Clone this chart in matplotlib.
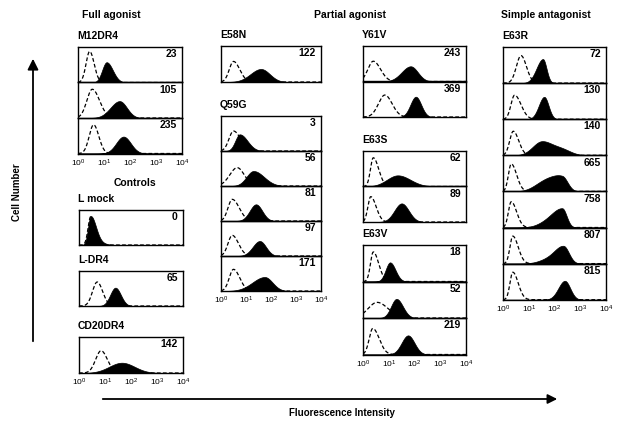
import numpy as np
import matplotlib.pyplot as plt

plt.rcParams['font.family'] = ['Liberation Sans', 'DejaVu Sans']
plt.rcParams['mathtext.fontset'] = 'custom'
plt.rcParams['mathtext.rm'] = 'Liberation Sans'
plt.rcParams['mathtext.it'] = 'Liberation Sans'
plt.rcParams['mathtext.bf'] = 'Liberation Sans:bold'

# panel groups (name, number of stacked histograms)
groups = ['M12DR4', 'L mock', 'L-DR4', 'CD20DR4', 'E58N', 'Q59G',
          'Y61V', 'E63S', 'E63V', 'E63R']
group_sizes = [3, 1, 1, 1, 1, 5, 2, 2, 3, 7]

# mean fluorescence value printed in each panel
mfi = [23, 105, 235, 0, 65, 142, 122, 3, 56, 81, 97, 171,
       243, 369, 62, 89, 18, 52, 219, 72, 130, 140, 665, 758, 807, 815]

# control (dashed) peak: position in decades, left/right spread, height
ctrl_mu = [0.45, 0.55, 0.6, 0.45, 0.7, 0.85, 0.5, 0.5, 0.65, 0.45, 0.45, 0.5,
           0.4, 0.85, 0.4, 0.3, 0.4, 0.55, 0.38, 0.7, 0.45, 0.4, 0.32, 0.32, 0.38, 0.38]
ctrl_sl = [0.14, 0.21, 0.17, 0.1, 0.18, 0.21, 0.17, 0.18, 0.3, 0.17, 0.17, 0.17,
           0.21, 0.25, 0.11, 0.11, 0.11, 0.35, 0.14, 0.18, 0.14, 0.14, 0.11, 0.11, 0.11, 0.11]
ctrl_sr = [0.17, 0.28, 0.2, 0.17, 0.21, 0.24, 0.25, 0.28, 0.28, 0.28, 0.25, 0.25,
           0.28, 0.28, 0.21, 0.21, 0.21, 0.42, 0.25, 0.21, 0.25, 0.21, 0.21, 0.21, 0.21, 0.21]
ctrl_h = [0.92, 0.85, 0.85, 0.85, 0.72, 0.65, 0.6, 0.6, 0.55, 0.65, 0.62, 0.65,
          0.6, 0.65, 0.85, 0.75, 0.85, 0.45, 0.75, 0.8, 0.7, 0.7, 0.8, 0.75, 0.8, 0.8]

# stained (filled) peak
fill_mu = [1.1, 1.6, 1.75, 0.45, 1.4, 1.65, 1.6, 0.75, 1.3, 1.4, 1.55, 1.75,
           1.85, 2.05, 1.35, 1.5, 1.05, 1.3, 1.75, 1.55, 1.6, 1.5, 2.3, 2.3, 2.35, 2.4]
fill_sl = [0.17, 0.35, 0.28, 0.1, 0.2, 0.49, 0.42, 0.18, 0.28, 0.25, 0.28, 0.49,
           0.35, 0.21, 0.42, 0.28, 0.17, 0.21, 0.25, 0.25, 0.21, 0.35, 0.42, 0.42, 0.35, 0.25]
fill_sr = [0.24, 0.28, 0.28, 0.2, 0.21, 0.49, 0.35, 0.31, 0.42, 0.25, 0.25, 0.31,
           0.28, 0.21, 0.49, 0.28, 0.21, 0.25, 0.25, 0.14, 0.17, 0.42, 0.21, 0.17, 0.21, 0.21]
fill_h = [0.6, 0.5, 0.5, 0.85, 0.55, 0.3, 0.38, 0.5, 0.45, 0.5, 0.45, 0.42,
          0.45, 0.6, 0.33, 0.55, 0.55, 0.55, 0.55, 0.7, 0.65, 0.4, 0.4, 0.55, 0.5, 0.55]

# secondary shoulder of the filled histogram (height 0 = none)
sh_mu = [0, 0, 0, 0.8, 0, 0, 0, 0, 0, 0, 0, 0,
         0, 0, 0, 0, 0, 0, 0, 0, 0, 2.3, 1.6, 1.6, 1.7, 0]
sh_s = [0.1, 0.1, 0.1, 0.25, 0.1, 0.1, 0.1, 0.1, 0.1, 0.1, 0.1, 0.1,
        0.1, 0.1, 0.1, 0.1, 0.1, 0.1, 0.1, 0.1, 0.1, 0.35, 0.4, 0.35, 0.35, 0.1]
sh_h = [0, 0, 0, 0.05, 0, 0, 0, 0, 0, 0, 0, 0,
        0, 0, 0, 0, 0, 0, 0, 0, 0, 0.15, 0.25, 0.08, 0.1, 0]

# layout in pixels: left, top, width, row height, decade labels below
W, H = 619, 423
g_left = [78, 79, 79, 79, 221, 221, 363, 363, 363, 503]
g_top = [47, 210, 271, 337, 46, 116, 46, 151, 245, 47]
g_width = [104, 104, 104, 104, 100, 100, 103, 103, 103, 103]
g_rowh = [35.5, 35, 35, 36, 36, 35, 35.5, 35.5, 36.5, 36.1]
g_ticks = [True, False, False, True, False, True, False, False, True, True]


def rect(left, top, w, h):
    return [left / W, 1 - (top + h) / H, w / W, h / H]


def peak(lx, mu, sl, sr, h):
    s = np.where(lx < mu, sl, sr)
    return h * np.exp(-0.5 * ((lx - mu) / s) ** 2)


fig = plt.figure(figsize=(W / 100, H / 100), dpi=100)
bg = fig.add_axes([0, 0, 1, 1])
bg.set_xlim(0, W)
bg.set_ylim(H, 0)
bg.axis('off')

bold = dict(fontsize=7.5, fontweight='bold')
bg.text(111, 15, 'Full agonist', ha='center', va='center', **bold)
bg.text(350, 15, 'Partial agonist', ha='center', va='center', **bold)
bg.text(546, 15, 'Simple antagonist', ha='center', va='center', **bold)
bg.text(135, 183, 'Controls', ha='center', va='center', **bold)

bg.annotate('', xy=(33, 56), xytext=(33, 344),
            arrowprops=dict(arrowstyle='-|>', lw=1.3, color='k', mutation_scale=16))
bg.annotate('', xy=(560, 399), xytext=(100, 399),
            arrowprops=dict(arrowstyle='-|>', lw=1.3, color='k', mutation_scale=14))
bg.text(17, 192, 'Cell Number', rotation=90, ha='center', va='center', fontsize=7, fontweight='bold')
bg.text(342, 413, 'Fluorescence Intensity', ha='center', va='center', fontsize=7, fontweight='bold')

xs = np.logspace(0, 4, 500)
lx = np.log10(xs)
k = 0
for g, name in enumerate(groups):
    bg.text(g_left[g] - 1, g_top[g] - 6, name, ha='left', va='bottom', **bold)
    for i in range(group_sizes[g]):
        ax = fig.add_axes(rect(g_left[g], g_top[g] + i * g_rowh[g], g_width[g], g_rowh[g]))
        ctrl = peak(lx, ctrl_mu[k], ctrl_sl[k], ctrl_sr[k], ctrl_h[k])
        stain = peak(lx, fill_mu[k], fill_sl[k], fill_sr[k], fill_h[k])
        stain = stain + peak(lx, sh_mu[k], sh_s[k], sh_s[k], sh_h[k])
        ax.fill_between(xs, 0, stain, color='black', lw=0.5)
        ax.plot(xs, ctrl, color='black', lw=0.9, ls=(0, (3, 1.8)))
        ax.set_xscale('log')
        ax.set_xlim(1, 1e4)
        ax.set_ylim(0, 1.05)
        ax.set_yticks([])
        ax.minorticks_off()
        for sp in ax.spines.values():
            sp.set_linewidth(1.0)
        ax.text(0.95, 0.8, str(mfi[k]), transform=ax.transAxes, ha='right', va='center', **bold)
        if g_ticks[g] and i == group_sizes[g] - 1:
            ax.set_xticks([1, 10, 100, 1000, 10000])
            ax.tick_params(axis='x', length=0, pad=3, labelsize=6)
        else:
            ax.set_xticks([])
        ax.patch.set_alpha(0)
        k += 1

fig.savefig('out.png', dpi=100)
